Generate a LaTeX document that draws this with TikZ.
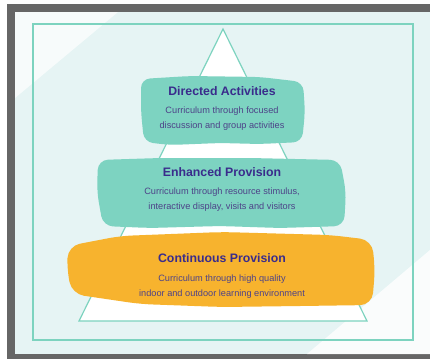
\documentclass[tikz,border=0pt]{standalone}
\usepackage{fontspec}
\setmainfont{Liberation Sans}
\definecolor{frame}{HTML}{666666}
\definecolor{pale}{HTML}{E6F4F4}
\definecolor{teal}{HTML}{7DD3BF}
\definecolor{tealfill}{HTML}{7DD3C1}
\definecolor{orange}{HTML}{F7B32E}
\definecolor{ink}{HTML}{3A2C8C}
\definecolor{subink}{HTML}{4D4288}
\tikzset{
  tline/.style={draw=teal, line width=1.2pt},
  title/.style={font=\fontsize{12.3}{14}\selectfont\bfseries, text=ink, inner sep=0pt},
  sub/.style={font=\fontsize{9.2}{15}\selectfont, text=subink, align=center, inner sep=0pt},
}
\begin{document}
\begin{tikzpicture}[x=1pt,y=-1pt]
\useasboundingbox (0,0) rectangle (430,359);
\fill[white] (0,0) rectangle (430,359);
% gray frame
\fill[frame] (7,4) rectangle (430,359);
\fill[pale] (15,12) rectangle (430,354);
\fill[white,opacity=0.7] (15,12) -- (118,12) -- (15,98) -- cycle;
\fill[white,opacity=0.8] (430,250) -- (430,354) -- (307,354) -- cycle;
% teal frame
\draw[tline] (33,24) -- (413,24) -- (413,340) -- (33,340) -- cycle;
% pyramid
\coordinate (apex) at (223,29);
\coordinate (bl) at (79,321);
\coordinate (br) at (367,321);
\draw[tline, fill=white] (apex) -- (br) -- (bl) -- cycle;
% Directed blob
\fill[tealfill, rounded corners=9] (141,79) -- (190,76) -- (260,77) -- (303,82) -- (305,112) -- (302,142) -- (260,144) -- (220,143) -- (170,145) -- (144,142) -- (141,112) -- cycle;
% Enhanced blob
\fill[tealfill, rounded corners=10] (98,160) -- (160,158) -- (250,158) -- (340,160) -- (346,192) -- (344,226) -- (280,228) -- (220,226) -- (150,228) -- (103,226) -- (97,192) -- cycle;
% Continuous blob
\fill[orange, rounded corners=12] (68,246) -- (120,236) -- (222,232) -- (330,235) -- (372,240) -- (375,270) -- (372,305) -- (300,306) -- (222,307) -- (140,304) -- (72,294) -- (67,270) -- cycle;
% text
\node[title] (t1) at (222,91) {Directed Activities};
\node[sub] (s1) at (222,118.5) {Curriculum through focused\\discussion and group activities};
\node[title] (t2) at (222,172) {Enhanced Provision};
\node[sub] (s2) at (222,199.5) {Curriculum through resource stimulus,\\interactive display, visits and visitors};
\node[title] (t3) at (222,258) {Continuous Provision};
\node[sub] (s3) at (222,286.5) {Curriculum through high quality\\indoor and outdoor learning environment};
\end{tikzpicture}
\end{document}
